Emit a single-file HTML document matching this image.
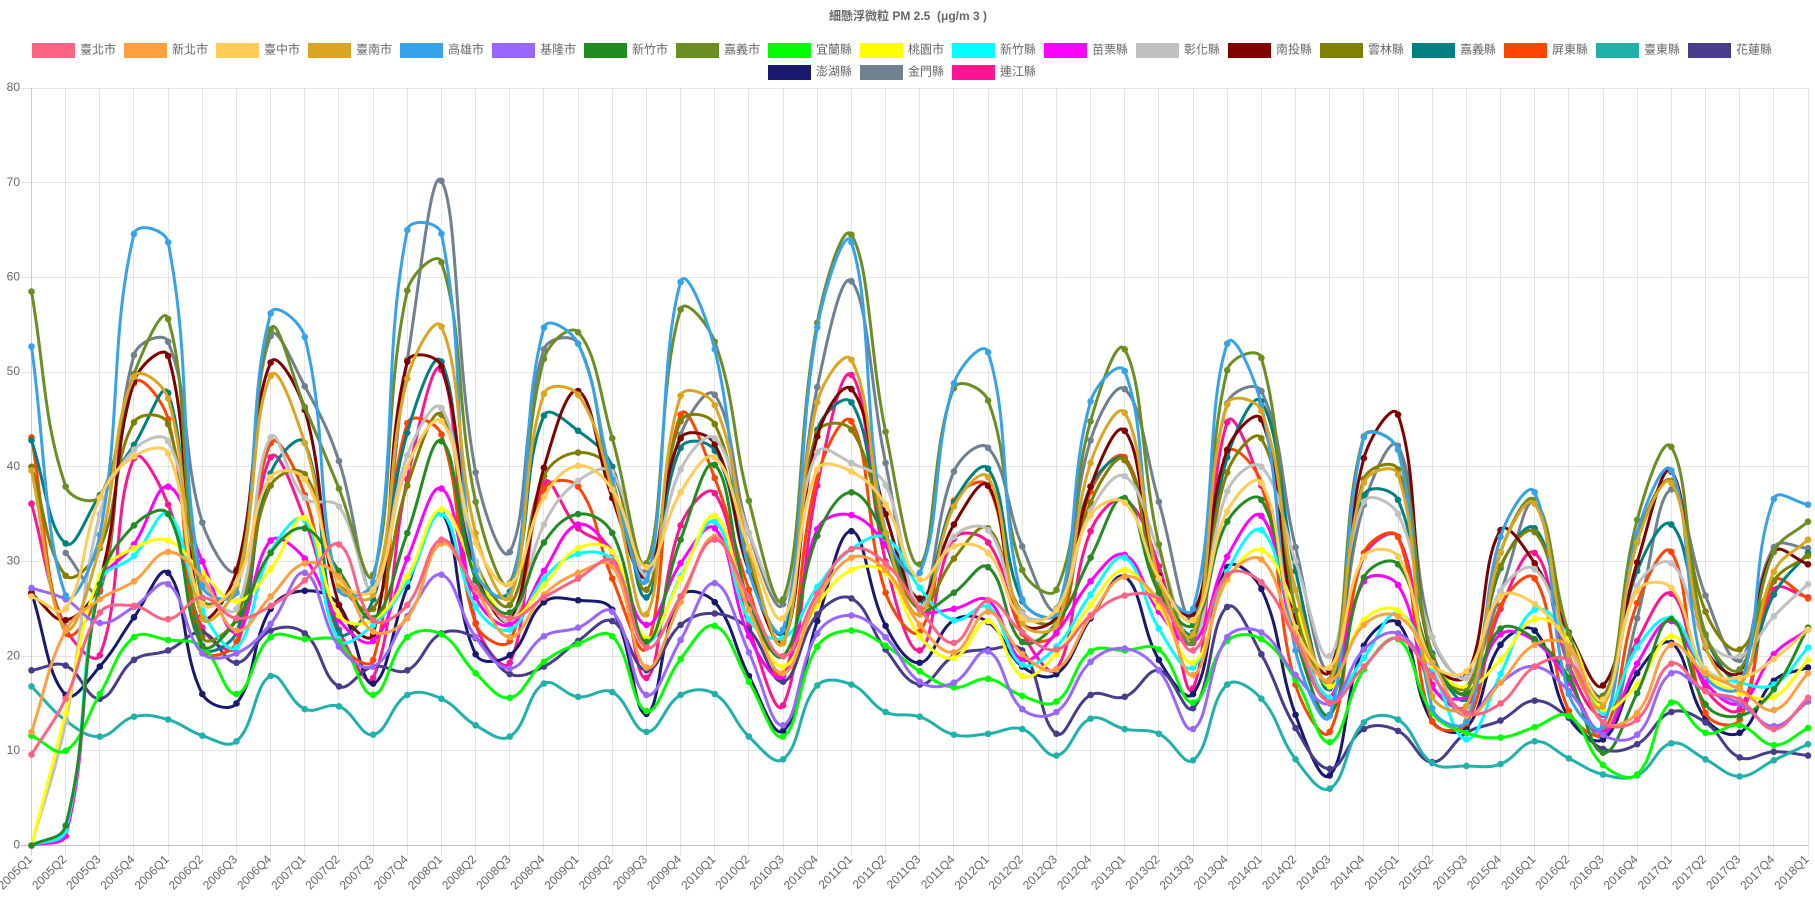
<!DOCTYPE html>
<html lang="zh-Hant">
<head>
<meta charset="utf-8">
<title>細懸浮微粒 PM 2.5</title>
<style>
html,body{margin:0;padding:0;background:#fff;width:1815px;height:907px;overflow:hidden}
svg{display:block}
text{font-family:"Liberation Sans","Noto Sans CJK TC","Noto Sans CJK JP",sans-serif;fill:#666;font-size:12px;white-space:pre}
</style>
</head>
<body>
<svg id="chart" width="1815" height="907" viewBox="0 0 1815 907">
  <text x="908" y="20" text-anchor="middle" style="font-weight:bold">細懸浮微粒 PM 2.5  (μg/m 3 )</text>
  <g id="grid"></g>
  <g id="yticks"></g>
  <g id="xticks"></g>
  <g id="series"></g>
  <g id="legend"></g>
</svg>
<script>
const categories = ["2005Q1","2005Q2","2005Q3","2005Q4","2006Q1","2006Q2","2006Q3","2006Q4","2007Q1","2007Q2","2007Q3","2007Q4","2008Q1","2008Q2","2008Q3","2008Q4","2009Q1","2009Q2","2009Q3","2009Q4","2010Q1","2010Q2","2010Q3","2010Q4","2011Q1","2011Q2","2011Q3","2011Q4","2012Q1","2012Q2","2012Q3","2012Q4","2013Q1","2013Q2","2013Q3","2013Q4","2014Q1","2014Q2","2014Q3","2014Q4","2015Q1","2015Q2","2015Q3","2015Q4","2016Q1","2016Q2","2016Q3","2016Q4","2017Q1","2017Q2","2017Q3","2017Q4","2018Q1"];
const yTicks = [0,10,20,30,40,50,60,70,80];
const taipei = [9.6,15.5,24.6,25.3,23.9,26.2,24,25.3,28,31.8,
23.8,25.4,32.3,27.2,24,26.2,28.2,30,20.9,26.3,
32.3,26.1,20,26.6,31.3,29.8,25,21.4,25.9,22.5,
20.7,24.3,26.4,26,20.6,28.6,27.8,21.8,15.1,18.9,
21.9,17.9,14,15,18.9,19.5,13,13.3,19.2,16.3,
15.4,12.3,15.6];
const newTaipei = [12,22.7,26,27.9,31,28.2,22.7,26.3,29.8,28.4,
22.6,24,31.9,27,22,26.5,28.8,29.5,18.8,25.7,
32.6,24.9,18.2,25.9,30.4,29.1,23.3,20.4,24.7,20.2,
18.6,24.2,28.4,25.8,18,28.2,30.2,22.1,17.4,23.3,
24.2,19.3,13.7,17.2,21.2,21,13,14,21.2,18.2,
16.5,14.3,18.2];
const taichung = [26.3,25,36.7,41.1,41.4,25.5,27.7,38.9,38.7,28,
27,40,44.8,32,27.6,36.8,40.1,37.6,29.4,37.3,
41,31.5,24,39.7,39.5,36,28.1,31.6,30.9,24,
24.9,34.9,36.2,28.2,23.8,35.3,38.3,23,18.8,30.5,
30.5,19.3,18.4,26.3,25.5,21.2,15.4,26.9,27.2,18.6,
17.7,19.7,22.8];
const tainan = [39.6,22.9,31.6,49.5,47.2,24,27.5,49.6,42.5,27.5,
26.5,49.3,54.8,33,26.2,47.7,47.6,37.6,24.4,47.5,
46.5,31.2,21.4,46.8,51.3,33,24.4,35.8,38.9,23.5,
23.3,40.4,45.7,28.2,22.3,46.6,45.9,27,17.4,38.3,
39.2,15.8,14.7,30.9,36.1,20.2,14.7,32,38.3,21,
16.9,28.9,32.3];
const kaohsiung = [52.7,26.4,32.8,64.6,63.7,27.4,26.7,56.2,53.7,27,
27.8,65,64.6,29,26.5,54.7,53,38.7,28,59.5,
52.4,29,22.8,54.7,63.7,33,28.8,48.8,52.1,26,
24.5,46.9,50.1,28,25,53,46.5,20.6,13.7,43.1,
41.8,14.5,13.1,32.6,37.3,16,12.6,33,39.6,18,
16.8,36.6,36];
const keelung = [27.2,26,23.5,25.2,27.6,20.3,20.3,23.4,28.8,21,
18.9,24.2,28.6,22,18.7,22.1,23,24.7,15.9,21.7,
27.7,20.4,12.7,22.4,24.3,22,17.3,17.2,20.5,14.4,
14.1,19.4,20.8,18.5,12.3,22,22.5,18,15,20.7,
22.4,18,13.7,17.2,18.9,16.3,11.7,11.7,18.2,16.3,
15,12.6,15.2];
const hsinchuCity = [0,2.1,27.6,33.8,35,21.1,23.8,30.9,33.5,29,
24,33,42.7,28.2,24.6,32,35,33,21.5,32.3,
40.2,25.6,20,32.7,37.3,32.6,25,26.7,29.4,21.5,
23.5,30.4,36.7,26.7,23.3,34.2,36.5,22,13.8,28.3,
29.7,19.6,16,22.9,21.8,17.7,9.8,16.1,23.9,14.9,
13.7,16.5,23];
const chiayiCity = [58.5,37.9,36.9,49.8,55.6,26,27.5,54.5,46.3,37.7,
28.6,58.6,61.6,36.3,27.7,51.4,54.2,43,29.8,56.6,
53.2,36.4,26,55.2,64.5,43.7,29.7,48.3,47,29.1,
27,44.8,52.4,31.8,21.5,50.2,51.5,24.8,17.5,43.2,
41.8,20,16.3,31,36.5,22.4,15.4,34.4,42.1,22.3,
18.6,31,34.2];
const yilan = [11.6,10,16,22,21.7,21,16,22,21.8,21.5,
15.9,22,22.3,18.2,15.6,19.4,21.3,22.1,14.2,19.7,
23.2,17.3,11.5,21,22.7,21.1,18.4,16.7,17.6,15.8,
15.2,20.5,20.6,20.7,15.1,21.6,21.8,17.5,10.9,18.6,
21.8,14,11.9,11.4,12.5,13.7,8.5,7.5,15.1,11.9,
12.7,10.6,12.4];
const taoyuan = [0,14,28.5,31.4,32.2,28.8,25.8,29.2,34.6,24.3,
23.8,28.4,35.5,29,24,27.5,31.4,31,21.9,28.2,
34.8,24.9,18.9,25.4,29.1,28.8,22.1,19.8,23.7,17.9,
20.2,25.4,29.1,25.2,19.3,28,31.2,25,16.8,23.8,
24.8,19,16.7,19.6,23.9,21.9,14.4,17,22.1,18,
16.1,15.7,19.6];
const hsinchuCounty = [0,1.6,27.8,30.6,35,24.8,20.9,31,34.4,21.7,
23.3,27.9,35,25.2,22.8,28.2,30.8,30.1,21.5,28.4,
34.2,23.9,21.9,27.3,31.3,32.5,27.2,23.8,25.2,19.1,
21,26.5,30.4,22.9,18.8,28.9,33.3,23,15.6,19.8,
24.6,18.6,11.2,18.1,24.9,22.1,14,20.9,24,18.6,
17.2,17,20.9];
const miaoli = [0,1,27.5,31.8,37.9,30,22.5,32.2,30.3,23.8,
21.6,30.3,37.7,26.2,23.3,29,33.9,30.9,23.3,29.8,
33.5,22.1,17.9,33.4,34.9,31.7,25,25,25.9,19.6,
22.5,27.9,30.7,24.7,21.4,30.5,34.8,22,15.5,27.9,
27.5,16.7,15.8,22.3,21.6,17.2,11.9,19.2,23.7,17.2,
15,20.2,22.8];
const changhua = [0,13,35,41.8,42.7,27.9,25,43.1,36.7,35.8,
27,41.2,46.2,30,23.7,33.9,38.5,39.4,28.5,39.7,
43,33,26,41.5,40.4,38.1,25.3,32.6,33.3,24.5,
24.7,35.3,39,31,21.5,37.4,40,30,20,36.3,
35,22,17.7,26.9,29.2,21,15,27.4,29.8,21.7,
20,24.2,27.6];
const nantou = [26.6,23.8,28,49,51.7,24.3,29,51,46,25.4,
22.3,51.1,50.6,29,23.8,39.9,48,36.7,28.4,43,
42.4,29,21.7,43.2,48.2,35,26.1,33.9,38,23.5,
24.2,37.9,43.8,28.5,24.5,41.8,45,24,18.4,40.9,
45.5,19.5,17.9,33.3,29.8,22.5,16.9,29.9,39.5,20.9,
18.3,31,29.7];
const yunlin = [40,28.5,31.4,44.7,44.5,22,24,38,39.2,28,
25,38,45.5,30,25.4,39,41.5,39.5,27,44.8,
44.5,30,21.4,43.6,43.9,33,25,30.3,33.5,24.6,
23.9,36.2,40.7,27,22,39.4,43,27,17.2,38.7,
39.7,20,16.7,29.5,33.1,22,15.7,32.3,38.5,24.7,
20.7,28,30.6];
const chiayiCounty = [42.8,31.9,37,42.3,47.8,21,22.5,39.3,42.5,22.5,
26,43.6,51.1,28,26.8,45.4,43.8,40,26.2,42,
41.7,29,22.5,43.9,46.8,32,25.6,36.2,39.8,25.8,
24.5,37.9,40.7,28,22.5,41,46.9,29,16.6,37,
36.5,20.3,15.5,29.3,33.5,22,15.8,29,33.9,22,
17.6,26.5,30.9];
const pingtung = [43.1,22.4,27,48.8,45,20.7,21.5,42.5,37,21.7,
19.6,44.6,43.4,23.4,21.6,37.6,37.9,28.2,20.9,45.5,
38.8,27,18,39,44.8,26.7,22.6,36.4,38,22.4,
22.4,37.4,41,28,21.5,41.5,38.3,17,12,30.9,
32.6,13.1,12.9,25.3,28.2,14.2,11.9,25.6,31,14,
13.3,27.9,26.1];
const taitung = [16.8,13.2,11.5,13.6,13.3,11.6,11,17.9,14.4,14.7,
11.7,15.9,15.5,12.7,11.5,17.1,15.7,16.2,12,15.9,
16,11.5,9.1,16.9,17,14.1,13.6,11.7,11.8,12.3,
9.5,13.4,12.3,11.8,9,17,15.5,9.1,6,13,
13.3,8.7,8.4,8.6,11,9.2,7.5,7.4,10.8,9.1,
7.3,9,10.7];
const hualien = [18.5,19,15.5,19.6,20.6,22.5,19.3,22.7,22.4,16.8,
18.9,18.5,22.4,21.9,18.1,18.9,21.6,23.7,18.5,23.3,
24.5,22.8,17.3,24.4,26.1,20.7,17,20,20.7,20.6,
11.8,15.9,15.7,18.5,14.5,25.2,20.2,12.4,8.1,12.3,
12.1,8.8,11.9,13.2,15.3,13.5,10.2,10.7,14.1,13,
9.3,9.9,9.5];
const penghu = [26.7,15.9,18.9,24.1,28.8,16,15,25,26.9,25.4,
17.1,27.3,35.1,20.2,20.1,25.7,25.9,24.9,13.9,26.3,
25.7,17.9,12.1,23.7,33.2,23.2,19.3,23.8,23.6,18.9,
18.1,24,28.4,19.6,16,29.4,27.1,13.8,7.4,21.1,
23.5,13.1,12.4,21.2,22.7,13.5,11.2,18.2,21.4,13.4,
11.9,17.4,18.8];
const kinmen = [null,30.9,26.8,51.8,53.2,34.1,29.2,53.8,48.5,40.6,
27,51.3,70.2,39.4,31,52.4,53,38,29,43.4,
47.6,33,25.5,48.4,59.6,40.4,25,39.5,42,31.6,
25,42.8,48.2,36.3,24,46.7,48,31.5,18.5,36,
42.2,22,17.8,26.7,36.2,18.7,11.5,24,37.6,26.4,
19.6,31.5,31.4];
const lienchiang = [36.1,23,20.1,40.9,36,23,21,41,34.4,22.8,
17.7,38.7,50.2,23.5,19.3,38.3,33.5,31,17.7,33.8,
37.2,23.1,14.8,38,49.7,30,20.6,32.4,32,22.5,
18.6,33.2,36.5,29.5,16.6,44.7,38,24,15.6,30.5,
32.6,17,14.7,25,30.9,19,13.8,21.6,26.6,16.6,
14.4,27,26.2];

const seriesNames = ["臺北市","新北市","臺中市","臺南市","高雄市","基隆市","新竹市","嘉義市","宜蘭縣","桃園市","新竹縣","苗栗縣","彰化縣","南投縣","雲林縣","嘉義縣","屏東縣","臺東縣","花蓮縣","澎湖縣","金門縣","連江縣"];
const seriesValues = [taipei,newTaipei,taichung,tainan,kaohsiung,keelung,hsinchuCity,chiayiCity,yilan,taoyuan,hsinchuCounty,miaoli,changhua,nantou,yunlin,chiayiCounty,pingtung,taitung,hualien,penghu,kinmen,lienchiang];
const seriesColors = ["#FF6384","#FF9F40","#FFCD56","#DAA520","#36A2EB","#9966FF","#228B22","#6B8E23","#00FF00","#FFFF00","#00FFFF","#FF00FF","#C0C0C0","#800000","#808000","#008080","#FF4500","#20B2AA","#483D8B","#191970","#708090","#FF1493"];

const NS = "http://www.w3.org/2000/svg";
const area = {left:31.5,right:1808,top:88,bottom:845.5};
const yMax = 80;
const tension = 0.4;
function xScale(i){return area.left+(area.right-area.left)*i/(categories.length-1);}
function yScale(v){return area.bottom-(area.bottom-area.top)*v/yMax;}
function mk(tag,attrs,parent){
  const el=document.createElementNS(NS,tag);
  for(const k in attrs){el.setAttribute(k,attrs[k]);}
  parent.appendChild(el);
  return el;
}
function crisp(v){return Math.round(v-0.5)+0.5;}
function clampY(v){return Math.max(area.top,Math.min(area.bottom,v));}
function clampX(v){return Math.max(area.left,Math.min(area.right,v));}

const gridG=document.getElementById('grid');
const yG=document.getElementById('yticks');
const xG=document.getElementById('xticks');
yTicks.forEach(function(t){
  const y=crisp(yScale(t));
  const line=mk('line',{x1:21,x2:area.right,y1:y,y2:y,stroke:t===0?'rgba(0,0,0,0.25)':'rgba(0,0,0,0.1)','stroke-width':1},gridG);
  
  
  const label=mk('text',{x:20,y:yScale(t),'text-anchor':'end','dominant-baseline':'middle'},yG);
  label.textContent=String(t);
  
  
});
categories.forEach(function(c,i){
  const x=crisp(xScale(i));
  const line=mk('line',{x1:x,x2:x,y1:area.top,y2:area.bottom+10,stroke:i===0?'rgba(0,0,0,0.2)':'rgba(0,0,0,0.1)','stroke-width':1},gridG);
  
  
  const label=mk('text',{'text-anchor':'end',transform:'translate('+(xScale(i)+1.5)+' 860) rotate(-45)'},xG);
  label.textContent=c;
  
  
});

function segments(vals){
  const out=[];let cur=[];
  vals.forEach(function(v,i){
    if(v===null){if(cur.length){out.push(cur);}cur=[];}
    else{cur.push({x:xScale(i),y:yScale(v)});}
  });
  if(cur.length){out.push(cur);}
  return out;
}
function splinePath(pts){
  const cps=pts.map(function(p,i){
    const a=pts[Math.max(0,i-1)],b=pts[Math.min(pts.length-1,i+1)];
    const d01=Math.hypot(p.x-a.x,p.y-a.y),d12=Math.hypot(b.x-p.x,b.y-p.y);
    const sum=d01+d12||1;
    const fa=tension*d01/sum,fb=tension*d12/sum;
    return {
      px:clampX(p.x-fa*(b.x-a.x)),py:clampY(p.y-fa*(b.y-a.y)),
      nx:clampX(p.x+fb*(b.x-a.x)),ny:clampY(p.y+fb*(b.y-a.y))
    };
  });
  let d='M'+pts[0].x.toFixed(2)+' '+pts[0].y.toFixed(2);
  for(let i=1;i<pts.length;i++){
    d+='C'+cps[i-1].nx.toFixed(2)+' '+cps[i-1].ny.toFixed(2)+' '+cps[i].px.toFixed(2)+' '+cps[i].py.toFixed(2)+' '+pts[i].x.toFixed(2)+' '+pts[i].y.toFixed(2);
  }
  return d;
}

const seriesG=document.getElementById('series');
for(let s=seriesValues.length-1;s>=0;s--){
  const g=mk('g',{},seriesG);
  
  
  segments(seriesValues[s]).forEach(function(pts){
    const path=mk('path',{d:splinePath(pts),fill:'none',stroke:seriesColors[s],'stroke-width':3,'stroke-linejoin':'round'},g);
    
    
    pts.forEach(function(p){
      const dot=mk('circle',{cx:p.x,cy:p.y,r:3.3,fill:seriesColors[s]},g);
      
      
    });
  });
}

const legendG=document.getElementById('legend');
seriesNames.forEach(function(name,i){
  const row=i<19?0:1;
  const col=row===0?i:i-19+8;
  const x=32+92*col;
  const y=43+22*row;
  const g=mk('g',{style:'cursor:pointer'},legendG);
  
  
  const box=mk('rect',{x:x,y:y,width:43,height:15,fill:seriesColors[i]},g);
  
  
  const label=mk('text',{x:x+48,y:y+10.5},g);
  label.textContent=name;
  
  
});
</script>
</body>
</html>
